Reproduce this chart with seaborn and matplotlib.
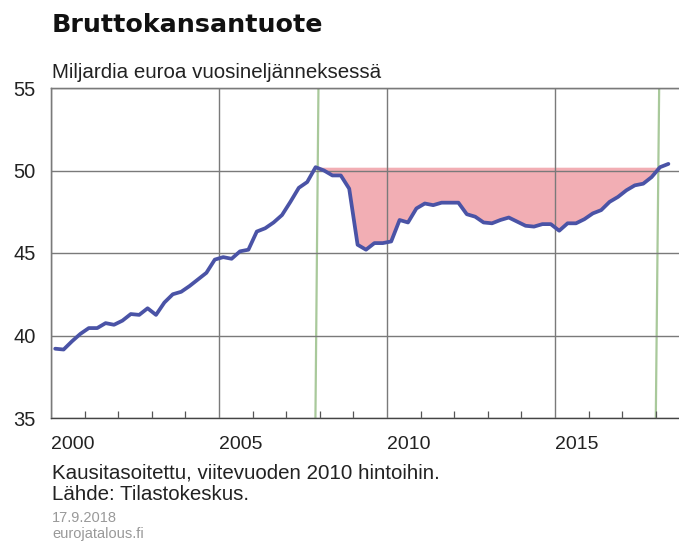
#
## plot.py
#
#  Finnish GDP (quarterly, seasonally adjusted, 2010 prices) with the post-2008 output gap shaded.
#

import numpy as np
import pandas as pd
import matplotlib.pyplot as plt
from matplotlib.ticker import MultipleLocator, FixedLocator
import seaborn as sns

# Quarterly GDP, billions of euros, 2000Q1 .. 2018Q2
gdp_values = [
    39.20, 39.15, 39.65, 40.10,   # 2000
    40.45, 40.45, 40.75, 40.65,   # 2001
    40.90, 41.30, 41.25, 41.65,   # 2002
    41.25, 42.00, 42.50, 42.65,   # 2003
    43.00, 43.40, 43.80, 44.60,   # 2004
    44.75, 44.65, 45.10, 45.20,   # 2005
    46.30, 46.50, 46.85, 47.30,   # 2006
    48.10, 48.95, 49.30, 50.20,   # 2007
    50.00, 49.70, 49.70, 48.90,   # 2008
    45.50, 45.20, 45.60, 45.60,   # 2009
    45.70, 47.00, 46.85, 47.70,   # 2010
    48.00, 47.90, 48.05, 48.05,   # 2011
    48.05, 47.35, 47.20, 46.85,   # 2012
    46.80, 47.00, 47.15, 46.90,   # 2013
    46.65, 46.60, 46.75, 46.75,   # 2014
    46.35, 46.80, 46.80, 47.05,   # 2015
    47.40, 47.60, 48.10, 48.40,   # 2016
    48.80, 49.10, 49.20, 49.60,   # 2017
    50.20, 50.40,                 # 2018
]
first_quarter = '2000Q1'
last_quarter = '2018Q2'

# green markers for the pre-crisis peak and the recovery (bottom / top of the line, in years)
marker_bottom = [2007.87, 2018.00]
marker_top = [2007.96, 2018.10]

x_ticks = [2000, 2005, 2010, 2015]
y_ticks = [35, 40, 45, 50, 55]

periods = pd.period_range(first_quarter, last_quarter, freq='Q')
df = pd.DataFrame({
    'year': periods.year + (periods.quarter - 0.5) / 4,
    'gdp': gdp_values,
})

# previous peak (before the crisis) and the quarter it is reached again
peak_idx = int(np.argmax(df['gdp'].values[:32]))
peak_val = df['gdp'].iloc[peak_idx]
recover_idx = peak_idx + 1 + int(np.argmax(df['gdp'].values[peak_idx + 1:] >= peak_val))
gap = df.iloc[peak_idx:recover_idx + 1]

sns.set_style('white')
plt.rcParams['font.family'] = ['Liberation Sans', 'DejaVu Sans']

fig = plt.figure(figsize=(6.79, 5.45), dpi=100)
ax = fig.add_axes([51 / 679, 1 - 418 / 545, 1 - 51 / 679, 330 / 545])

ax.fill_between(gap['year'], gap['gdp'], peak_val, color='#e96c77', alpha=0.55, lw=0, zorder=1)

for xb, xt in zip(marker_bottom, marker_top):
    ax.plot([xb, xt], [35, 55], color='#a9c99b', lw=1.6, zorder=2)

sns.lineplot(data=df, x='year', y='gdp', ax=ax, color='#4a53a6', lw=2.7, zorder=4)

ax.set_xlim(2000, 2000 + 628 / 33.6)
ax.set_ylim(35, 55)

ax.xaxis.set_major_locator(FixedLocator(x_ticks))
ax.xaxis.set_minor_locator(MultipleLocator(1))
ax.set_xticklabels([str(t) for t in x_ticks], ha='left')
ax.set_yticks(y_ticks)

ax.grid(True, which='major', color='#7a7a7a', lw=1.0, zorder=3)
ax.set_axisbelow(False)
ax.tick_params(axis='x', which='major', length=0, pad=13, labelsize=14, colors='#222222')
ax.tick_params(axis='x', which='minor', direction='in', length=5, width=0.9, color='#555555', bottom=True)
ax.tick_params(axis='y', which='major', length=0, pad=11, labelsize=14.5, colors='#222222')

for side in ['left', 'top', 'bottom']:
    ax.spines[side].set_color('#444444')
    ax.spines[side].set_linewidth(1.0)
ax.spines['right'].set_visible(False)

ax.set_xlabel('')
ax.set_ylabel('')

fig.text(52 / 679, 1 - 25 / 545, 'Bruttokansantuote', fontsize=18.3, fontweight='bold', va='center',
         color='#111111', family='DejaVu Sans')
fig.text(52 / 679, 1 - 73 / 545, 'Miljardia euroa vuosineljänneksessä', fontsize=14.8, va='center', color='#222222')
fig.text(52 / 679, 1 - 473 / 545, 'Kausitasoitettu, viitevuoden 2010 hintoihin.', fontsize=14.8, va='center', color='#222222')
fig.text(52 / 679, 1 - 495 / 545, 'Lähde: Tilastokeskus.', fontsize=14.8, va='center', color='#222222')
fig.text(52 / 679, 1 - 518 / 545, '17.9.2018', fontsize=10.5, va='center', color='#999999')
fig.text(52 / 679, 1 - 534 / 545, 'eurojatalous.fi', fontsize=10.5, va='center', color='#999999')

plt.savefig('out.png', dpi=100)
plt.close()
